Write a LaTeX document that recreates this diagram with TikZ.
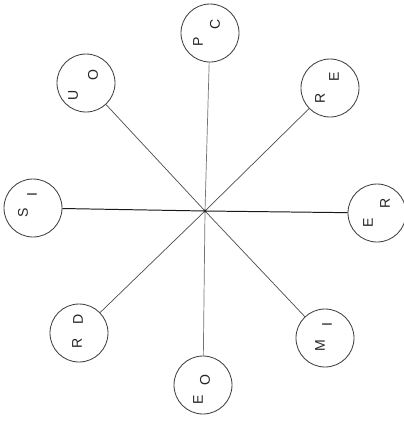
\documentclass[tikz,border=0pt]{standalone}
\usepackage{fontspec}
\setmainfont{Liberation Sans}
\usetikzlibrary{positioning}

\begin{document}
\begin{tikzpicture}[
  x=0.25mm, y=-0.25mm,
  ring/.style={circle, draw=black!75, line width=0.6pt, minimum size=14.5mm, inner sep=0pt},
  ltr/.style={rotate=90, inner sep=0pt, font=\fontsize{10}{11}\selectfont, text=black!85},
  spoke/.style={draw=black!70, line width=0.5pt},
]
\useasboundingbox (0,0) rectangle (404,423);

% ============================================================
% hub and the eight rings
% ============================================================
\coordinate (hub) at (205,211);

\node[ring] (pc) at (210,33)  {};
\node[ring] (re) at (330,88)  {};
\node[ring] (er) at (377,213) {};
\node[ring] (mi) at (325,338) {};
\node[ring] (eo) at (203,385) {};
\node[ring] (rd) at (79,333)  {};
\node[ring] (si) at (33,208)  {};
\node[ring] (uo) at (86,83)   {};

% spokes
\draw[spoke, black!55] (hub) -- (pc);
\draw[spoke] (hub) -- (re);
\draw[spoke, black!90, line width=0.7pt] (hub) -- (er);
\draw[spoke] (hub) -- (mi);
\draw[spoke, black!55] (hub) -- (eo);
\draw[spoke] (hub) -- (rd);
\draw[spoke, black!90, line width=0.7pt] (hub) -- (si);
\draw[spoke] (hub) -- (uo);
\fill[black!85] (hub) circle (1.2pt);

% ============================================================
% letters (set sideways, as in the scan)
% ============================================================
\node[ltr] (pc-a) at (198,42)  {P};
\node[ltr] (pc-b) at (215,24)  {C};
\node[ltr] (re-a) at (320,98)  {R};
\node[ltr] (re-b) at (334,77)  {E};
\node[ltr] (er-a) at (368,223) {E};
\node[ltr] (er-b) at (385,203) {R};
\node[ltr] (mi-a) at (320,346) {M};
\node[ltr] (mi-b) at (327,325) {I};
\node[ltr] (eo-a) at (198,400) {E};
\node[ltr] (eo-b) at (205,380) {O};
\node[ltr] (rd-a) at (77,343)  {R};
\node[ltr] (rd-b) at (78,319)  {D};
\node[ltr] (si-a) at (23,213)  {S};
\node[ltr] (si-b) at (32,195)  {I};
\node[ltr] (uo-a) at (73,95)   {U};
\node[ltr] (uo-b) at (93,75)   {O};

\end{tikzpicture}
\end{document}
